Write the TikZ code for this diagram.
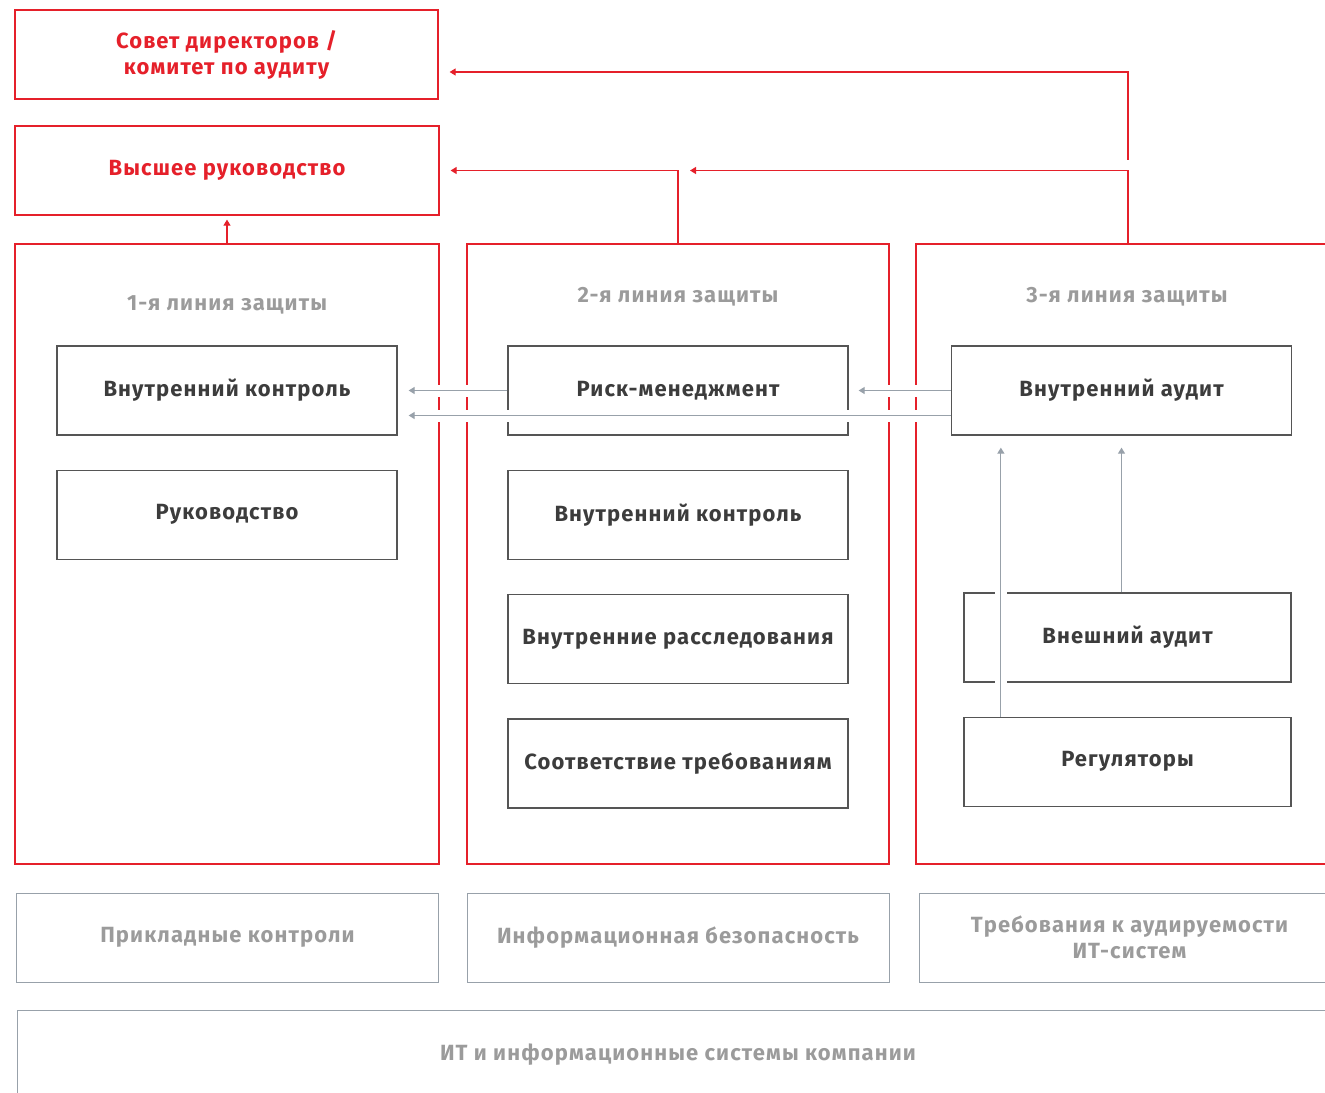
\documentclass[tikz,border=0pt]{standalone}
\usepackage{fontspec}
\setmainfont{Fira Sans}[LetterSpace=5]
\usetikzlibrary{arrows.meta, positioning}
\definecolor{lodred}{HTML}{E5202A}
\definecolor{lodink}{HTML}{3C3C3C}
\definecolor{lodgrey}{HTML}{9B9B9B}
\definecolor{lodsteel}{HTML}{98A1AA}
\definecolor{lodframe}{HTML}{555555}
\tikzset{
  node distance=17pt,
  box/.style={rectangle, draw=lodframe, line width=0.65pt, align=center,
              minimum width=170pt, minimum height=44.5pt, inner sep=2pt,
              font=\fontsize{11}{13}\selectfont\bfseries, text=lodink},
  boxr/.style={box, draw=lodred, line width=0.6pt, text=lodred, minimum width=212pt},
  boxk/.style={box, draw=lodsteel, line width=0.5pt, text=lodgrey, minimum width=211pt},
  lane/.style={rectangle, draw=lodred, line width=0.6pt, minimum width=212pt, minimum height=310pt},
  lanehead/.style={font=\fontsize{11}{13}\selectfont\bfseries, text=lodgrey},
  flowr/.style={-{Triangle[length=3pt, width=3.5pt]}, draw=lodred, line width=0.6pt},
  flowg/.style={-{Triangle[length=3pt, width=3.5pt]}, draw=lodsteel, line width=0.6pt},
  bridge/.style={preaction={draw=white, line width=6pt, shorten <=1pt, -}},
}

\begin{document}
\begin{tikzpicture}[x=0.5pt, y=-0.5pt]
  \clip (0,0) rectangle (1325,1092);

  % governance
  \node[boxr, minimum width=211.5pt] (board) at (226.5,54.5) {Совет директоров /\\комитет по аудиту};
  \node[boxr] (top) at (227,170.5) {Высшее руководство};

  % three lines of defence
  \node[lane] (lane1) at (227,554) {};
  \node[lane, minimum width=211pt] (lane2) at (678,554) {};
  \node[lane] (lane3) at (1128,554) {};
  \node[lanehead] (head1) at (227,305) {1-я линия защиты};
  \node[lanehead] (head2) at (678,297) {2-я линия защиты};
  \node[lanehead] (head3) at (1127,297) {3-я линия защиты};

  \node[box] (ctrl1) at (227,390.5) {Внутренний контроль};
  \node[box, below=of ctrl1] (mgmt) {Руководство};

  \node[box] (risk) at (678,390.5) {Риск-менеджмент};
  \node[box, below=of risk] (ctrl2) {Внутренний контроль};
  \node[box, below=of ctrl2] (invest) {Внутренние расследования};
  \node[box, below=of invest] (comply) {Соответствие требованиям};

  \node[box] (iaudit) at (1121.5,390.5) {Внутренний аудит};
  \node[box, minimum width=163.5pt] (eaudit) at (1127.5,637.5) {Внешний аудит};
  \node[box, minimum width=163.5pt, below=of eaudit] (reg) {Регуляторы};

  % IT layer
  \node[boxk] (apps) at (227.5,937.5) {Прикладные контроли};
  \node[boxk] (infosec) at (678,937.5) {Информационная безопасность};
  \node[boxk, minimum width=210.5pt] (itreq) at (1129.5,937.5) {Требования к аудируемости\\ИТ-систем};
  \node[boxk, minimum width=661pt, minimum height=45pt] (itsys) at (678,1055) {ИТ и информационные системы компании};

  % reporting lines
  \draw[flowr, shorten >=2pt] (lane1.north) -- (top.south);
  \draw[flowr, shorten >=5.5pt] (lane2.north) |- (top.east);
  \draw[flowr, shorten >=6pt] (lane3.north) |- (lane2.north |- top.east);
  \coordinate (fork) at ([yshift=5.5pt]lane3.north |- top.east);
  \draw[flowr, shorten >=5.5pt] (fork) |- ([yshift=-8.75pt]board.east);

  % information flows
  \draw[flowg, bridge, shorten >=5.5pt] (risk.west) -- (ctrl1.east);
  \draw[flowg, bridge, shorten >=5pt] (iaudit.west) -- (risk.east);
  \draw[flowg, bridge, shorten >=5.5pt] ([yshift=-12.5pt]iaudit.west) -- ([yshift=-12.5pt]ctrl1.east);
  \coordinate (regup) at ([xshift=25pt]iaudit.south west);
  \draw[flowg, bridge, shorten >=6pt] (regup |- reg.north) -- (regup);
  \draw[flowg, shorten >=6pt] (iaudit.south |- eaudit.north) -- (iaudit.south);
\end{tikzpicture}
\end{document}
